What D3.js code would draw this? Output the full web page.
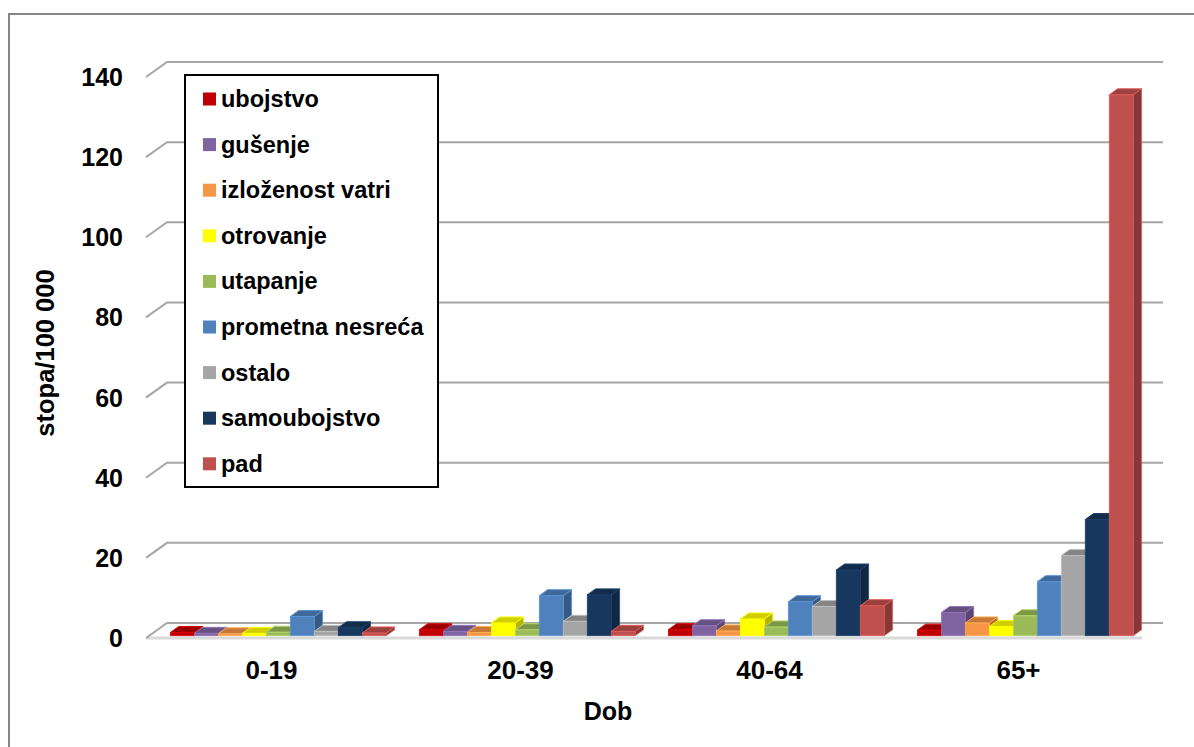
<!DOCTYPE html>
<html>
<head>
<meta charset="utf-8">
<script src="https://cdn.jsdelivr.net/npm/d3@7"></script>
<style>
  html, body { margin: 0; padding: 0; background: #ffffff; }
  svg { display: block; font-family: "Liberation Sans", Arial, sans-serif; }
</style>
</head>
<body>
<script>
// ---- data ----
const categories = ["0-19", "20-39", "40-64", "65+"];
const seriesNames = ["ubojstvo", "gušenje", "izloženost vatri", "otrovanje", "utapanje",
                     "prometna nesreća", "ostalo", "samoubojstvo", "pad"];
const seriesColors = ["#c00000", "#8064a2", "#f79646", "#ffff00", "#9bbb59",
                      "#4f81bd", "#a5a5a5", "#17375e", "#c0504d"];
const ubojstvo      = [0.8, 1.5, 1.5, 1.4];
const gusenje       = [0.6, 1.1, 2.5, 5.8];
const izlozenost    = [0.5, 0.8, 1.2, 3.2];
const otrovanje     = [0.6, 3.2, 4.2, 2.3];
const utapanje      = [0.9, 1.5, 2.2, 5.0];
const prometna      = [4.8, 10.0, 8.5, 13.5];
const ostalo        = [1.1, 3.6, 7.3, 20.0];
const samoubojstvo  = [2.0, 10.2, 16.4, 29.0];
const pad           = [0.7, 1.1, 7.5, 135.0];
const yTicks = [0, 20, 40, 60, 80, 100, 120, 140];
const xTitle = "Dob";
const yTitle = "stopa/100 000";

const seriesValues = [ubojstvo, gusenje, izlozenost, otrovanje, utapanje,
                      prometna, ostalo, samoubojstvo, pad];

// ---- layout ----
const W = 1194, H = 747;
const DX = 21, DY = -15;          // depth of the 3D floor
const F1 = 0.15, F2 = 0.55;        // bar front / back plane (fraction of depth)

const svg = d3.select("body").append("svg").attr("width", W).attr("height", H);

// outer border
svg.append("rect").attr("x", 9).attr("y", 14).attr("width", 1250).attr("height", 800)
  .attr("fill", "none").attr("stroke", "#868686").attr("stroke-width", 2);

const y = d3.scaleLinear().domain([0, 140]).range([638, 77]);
const x0 = d3.scaleBand().domain(categories).range([146, 1142]);
const x1 = d3.scaleBand().domain(seriesNames)
  .range([x0.bandwidth() * 0.085, x0.bandwidth() * 0.952]);

const [xL, xR] = x0.range();

// floor front edge
svg.append("path")
  .attr("d", `M${xL},${y(0)}L${xR},${y(0)}`)
  .attr("stroke", "#d9d9d9").attr("stroke-width", 3).attr("fill", "none");

// gridlines (back wall + side diagonal)
svg.append("g").selectAll("path").data(yTicks).join("path")
  .attr("d", t => `M${xL},${y(t)}L${xL + DX},${y(t) + DY}L${xR + DX},${y(t) + DY}`)
  .attr("fill", "none").attr("stroke", "#a6a6a6").attr("stroke-width", 2);

// y tick labels
svg.append("g").selectAll("text").data(yTicks).join("text")
  .attr("x", 123).attr("y", t => y(t))
  .attr("text-anchor", "end").attr("dominant-baseline", "central")
  .attr("font-size", 25).attr("font-weight", "bold").attr("fill", "#000")
  .text(t => t);

// x labels
svg.append("g").selectAll("text").data(categories).join("text")
  .attr("x", c => x0(c) + x0.bandwidth() / 2 + 1).attr("y", 670)
  .attr("text-anchor", "middle").attr("dominant-baseline", "central")
  .attr("font-size", 26).attr("font-weight", "bold").attr("fill", "#000")
  .text(c => c);

// axis titles
svg.append("text").attr("x", 608).attr("y", 711)
  .attr("text-anchor", "middle").attr("dominant-baseline", "central")
  .attr("font-size", 25).attr("font-weight", "bold").text(xTitle);
svg.append("text").attr("transform", "translate(45,353) rotate(-90)")
  .attr("text-anchor", "middle").attr("dominant-baseline", "central")
  .attr("font-size", 25.5).attr("font-weight", "bold").text(yTitle);

// bars
const bars = [];
categories.forEach((c, ci) => {
  seriesNames.forEach((s, si) => {
    bars.push({ c, s, v: seriesValues[si][ci], color: seriesColors[si] });
  });
});

const bdx = DX * (F2 - F1), bdy = DY * (F2 - F1);
const gBars = svg.append("g");
bars.forEach(d => {
  const w = x1.bandwidth();
  const fx = x0(d.c) + x1(d.s) + DX * F1;
  const fy0 = y(0) + DY * F1;
  const fy1 = y(d.v) + DY * F1;
  const base = d3.color(d.color);
  const edge = base.brighter(0.4).formatHex();
  const g = gBars.append("g");
  // side
  g.append("path")
    .attr("d", `M${fx + w},${fy1}L${fx + w + bdx},${fy1 + bdy}L${fx + w + bdx},${fy0 + bdy}L${fx + w},${fy0}Z`)
    .attr("fill", base.darker(1.0).formatHex()).attr("stroke", edge).attr("stroke-width", 0.7);
  // front
  g.append("rect").attr("x", fx).attr("y", fy1).attr("width", w).attr("height", fy0 - fy1)
    .attr("fill", d.color).attr("stroke", edge).attr("stroke-width", 0.7);
  // top
  g.append("path")
    .attr("d", `M${fx},${fy1}L${fx + w},${fy1}L${fx + w + bdx},${fy1 + bdy}L${fx + bdx},${fy1 + bdy}Z`)
    .attr("fill", base.darker(0.6).formatHex()).attr("stroke", edge).attr("stroke-width", 1);
});

// legend
const lg = svg.append("g");
lg.append("rect").attr("x", 185).attr("y", 75).attr("width", 253).attr("height", 412)
  .attr("fill", "#fff").attr("stroke", "#000").attr("stroke-width", 2);
const items = lg.selectAll("g.item").data(seriesNames).join("g")
  .attr("class", "item")
  .attr("transform", (d, i) => `translate(203,${99 + i * 45.6})`);
items.append("rect").attr("x", 0).attr("y", -6.5).attr("width", 13).attr("height", 13)
  .attr("fill", (d, i) => seriesColors[i]);
items.append("text").attr("x", 18).attr("y", 0).attr("dominant-baseline", "central")
  .attr("font-size", 23.5).attr("font-weight", "bold").attr("fill", "#000")
  .text(d => d);
</script>
</body>
</html>
